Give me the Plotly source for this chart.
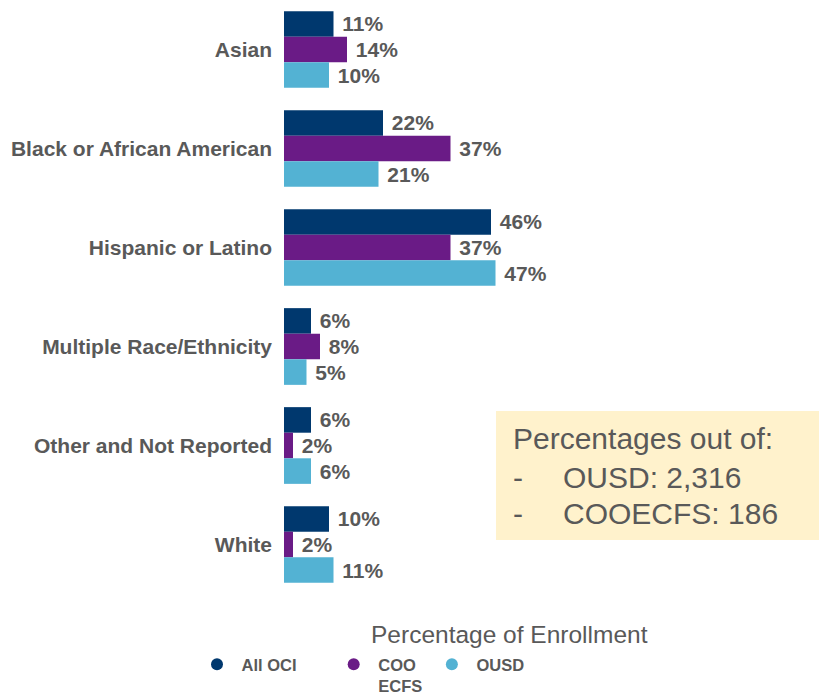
import plotly.graph_objects as go

# Enrollment share by race/ethnicity, in percent
categories = [
    "Asian",
    "Black or African American",
    "Hispanic or Latino",
    "Multiple Race/Ethnicity",
    "Other and Not Reported",
    "White",
]
all_oci = [11, 22, 46, 6, 6, 10]
coo_ecfs = [14, 37, 37, 8, 2, 2]
ousd = [10, 21, 47, 5, 6, 11]

series_names = ["All OCI", "COO<br>ECFS", "OUSD"]
series_colors = ["#00386E", "#6A1B86", "#53B2D3"]
# trailing spacing after each legend entry
legend_pad = [7, 1, 0]

note_lines = ["Percentages out of:", "OUSD: 2,316", "COOECFS: 186"]

GRAY = "#595959"
FONT = "Liberation Sans, Arial, sans-serif"
NBSP = "\u00a0"

W, H = 819, 697
M_L, M_R, M_T, M_B = 284, 85, 0, 103
PW, PH = W - M_L - M_R, H - M_T - M_B


def px_x(x):
    return (x - M_L) / PW


def px_y(y):
    return (H - M_B - y) / PH


fig = go.Figure()

for name, vals, color in zip(series_names, [all_oci, coo_ecfs, ousd], series_colors):
    fig.add_trace(go.Bar(
        y=categories,
        x=vals,
        orientation="h",
        name=name,
        marker=dict(color=color, line=dict(width=0)),
        text=[f"{NBSP}{v}%" for v in vals],
        textposition="outside",
        outsidetextfont=dict(family=FONT, size=21, color=GRAY, weight="bold"),
        cliponaxis=False,
        showlegend=False,
        hoverinfo="skip",
    ))

# Circular legend markers
for name, color, pad in zip(series_names, series_colors, legend_pad):
    if "<br>" in name:
        first, second = name.split("<br>")
        label = NBSP + first + "<br>" + NBSP + second + NBSP * pad
    else:
        label = NBSP + name + NBSP * pad
    fig.add_trace(go.Scatter(
        x=[None], y=[None],
        mode="markers",
        name=label,
        marker=dict(symbol="circle", size=12, color=color),
        showlegend=True,
    ))

fig.update_layout(
    width=W,
    height=H,
    margin=dict(l=M_L, r=M_R, t=M_T, b=M_B, pad=0, autoexpand=False),
    paper_bgcolor="white",
    plot_bgcolor="white",
    barmode="group",
    bargap=0.225,
    bargroupgap=0,
    font=dict(family=FONT, color=GRAY),
    xaxis=dict(
        range=[0, 100],
        visible=False,
        fixedrange=True,
    ),
    yaxis=dict(
        autorange="reversed",
        showgrid=False,
        zeroline=False,
        showline=False,
        ticks="",
        ticklabelstandoff=11,
        tickfont=dict(family=FONT, size=21, color=GRAY, weight="bold"),
    ),
    legend=dict(
        orientation="h",
        x=px_x(197),
        xanchor="left",
        y=px_y(647),
        yanchor="top",
        valign="top",
        font=dict(family=FONT, size=16.5, color=GRAY, weight="bold"),
        itemclick=False,
        bgcolor="rgba(0,0,0,0)",
    ),
    showlegend=True,
)

# Axis title
fig.add_annotation(
    text="Percentage of Enrollment",
    xref="paper", yref="paper",
    x=px_x(509), y=px_y(634),
    xanchor="center", yanchor="middle",
    showarrow=False,
    font=dict(family=FONT, size=24.5, color=GRAY),
)

# Note box
fig.add_shape(
    type="rect",
    xref="paper", yref="paper",
    x0=px_x(496), x1=px_x(819),
    y0=px_y(540), y1=px_y(411),
    fillcolor="#FFF2CC",
    line=dict(width=0),
    layer="below",
)

note_y = [438, 477, 513]
for i, (line, yy) in enumerate(zip(note_lines, note_y)):
    if i > 0:
        fig.add_annotation(
            text="-", xref="paper", yref="paper",
            x=px_x(511), y=px_y(yy), xanchor="left", yanchor="middle",
            showarrow=False, font=dict(family=FONT, size=30, color=GRAY),
        )
    fig.add_annotation(
        text=line, xref="paper", yref="paper",
        x=px_x(511 if i == 0 else 561), y=px_y(yy), xanchor="left", yanchor="middle",
        showarrow=False, font=dict(family=FONT, size=30, color=GRAY),
    )

fig.write_html("out.html")
